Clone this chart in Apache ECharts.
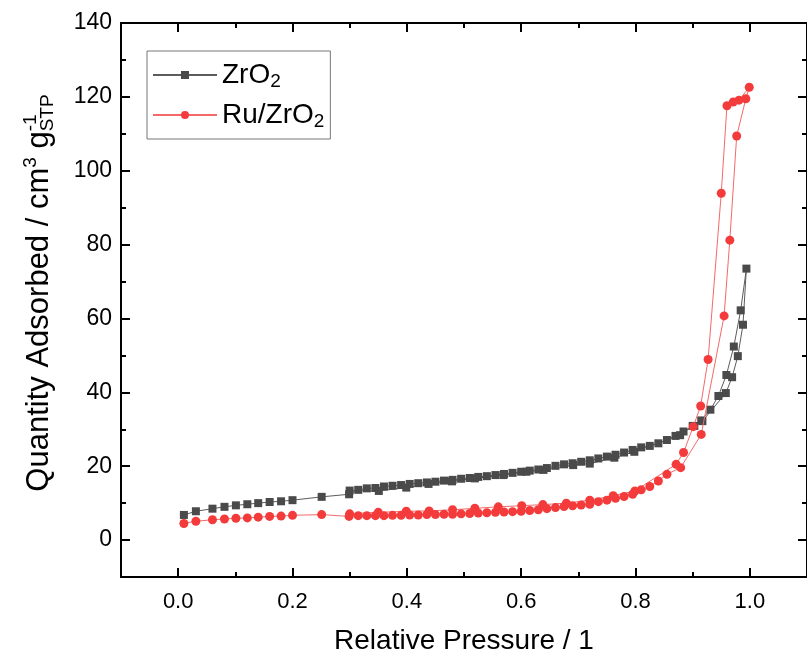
<!DOCTYPE html>
<html>
<head>
<meta charset="utf-8">
<script src="https://cdn.jsdelivr.net/npm/echarts@6/dist/echarts.min.js"></script>
<style>
  html, body { margin: 0; padding: 0; background: #fff; }
  #chart { width: 807px; height: 660px; }
</style>
</head>
<body>
<div id="chart"></div>
<script>
// N2 physisorption isotherms: adsorption branch followed by desorption branch
const zro2AdsP = [0.010,0.031,0.060,0.081,0.101,0.121,0.140,0.160,0.180,0.200,0.251,0.299,
  0.315,0.330,0.345,0.360,0.375,0.390,0.405,0.420,0.435,0.450,
  0.465,0.480,0.495,0.510,0.525,0.540,0.555,0.570,0.585,0.600,
  0.615,0.630,0.645,0.660,0.675,0.690,0.705,0.720,0.735,0.750,
  0.765,0.780,0.795,0.810,0.825,0.840,0.855,0.870,
  0.884,0.903,0.917,0.958,0.969,0.979,0.988,0.994];
const zro2AdsQ = [6.8,7.8,8.5,9.0,9.4,9.7,10.0,10.3,10.5,10.8,11.7,12.4,
  13.6,14.0,14.1,14.5,14.7,14.9,15.2,15.4,15.6,15.8,
  16.1,16.3,16.6,16.8,17.1,17.3,17.6,17.9,18.2,18.5,
  18.8,19.1,19.5,20.1,20.5,20.8,21.2,21.6,22.1,22.6,
  23.1,23.7,24.4,25.1,25.5,26.2,27.1,28.2,
  29.4,30.9,32.2,39.8,44.1,49.8,58.3,73.5];
const zro2DesP = [0.984,0.972,0.959,0.945,0.931,0.915,0.900,0.878,0.798,0.763,0.720,
  0.691,0.639,0.609,0.569,0.519,0.479,0.438,0.399,0.351,0.300];
const zro2DesQ = [62.2,52.4,44.7,39.0,35.3,32.4,30.9,28.4,23.9,22.3,20.7,
  20.3,19.0,18.5,17.6,16.7,15.9,15.2,14.2,13.3,13.4];

const ruAdsP = [0.010,0.031,0.060,0.081,0.101,0.121,0.140,0.160,0.180,0.200,0.251,0.299,
  0.315,0.330,0.345,0.360,0.375,0.390,0.405,0.420,0.435,0.450,
  0.465,0.480,0.495,0.510,0.525,0.540,0.555,0.570,0.585,0.600,
  0.615,0.630,0.645,0.660,0.675,0.690,0.705,0.720,0.735,0.750,
  0.765,0.780,0.795,0.810,0.825,0.840,0.855,
  0.879,0.915,0.955,0.965,0.977,0.993,0.999];
const ruAdsQ = [4.5,5.1,5.5,5.7,5.9,6.0,6.2,6.4,6.5,6.7,6.9,6.4,
  6.6,6.6,6.6,6.6,6.7,6.7,6.8,6.8,6.9,6.9,
  7.0,7.0,7.1,7.2,7.3,7.4,7.5,7.6,7.7,7.8,
  8.0,8.2,8.5,8.8,9.1,9.3,9.5,9.7,10.4,10.8,
  11.3,11.8,12.4,13.6,14.5,16.0,17.8,
  19.6,28.6,60.7,81.2,109.4,119.5,122.6];
const ruDesP = [0.981,0.971,0.960,0.950,0.927,0.914,0.901,0.884,0.871,0.799,0.761,
  0.720,0.679,0.638,0.601,0.560,0.519,0.480,0.439,0.399,0.350,0.300];
const ruDesQ = [119.1,118.6,117.6,93.9,48.9,36.3,30.7,23.7,20.5,13.3,12.0,
  10.8,10.0,9.6,9.3,9.0,8.6,8.2,7.9,7.8,7.5,7.1];

const seriesNames = ['ZrO2', 'Ru/ZrO2'];
const xMajor = [0, 0.2, 0.4, 0.6, 0.8, 1.0];
const xMinor = [0.1, 0.3, 0.5, 0.7, 0.9];
const yMajor = [0, 20, 40, 60, 80, 100, 120, 140];
const yMinor = [10, 30, 50, 70, 90, 110, 130];

function pairs(px, qy) { return px.map((p, i) => [p, qy[i]]); }

const FONT = '"Liberation Sans", Arial, sans-serif';
const SCRIPT_SIZE = 19;

// width of the superscript so the subscript can start underneath it
const measureCtx = document.createElement('canvas').getContext('2d');
measureCtx.font = SCRIPT_SIZE + 'px "Liberation Sans", Arial, sans-serif';
const supWidth = measureCtx.measureText('-1').width;

const chart = echarts.init(document.getElementById('chart'), null, { renderer: 'canvas' });

function frameX(pos, values, len, withLine, withLabel) {
  return {
    type: 'value', gridIndex: 0, position: pos, min: -0.1, max: 1.1,
    axisLine: { show: withLine, onZero: false, lineStyle: { color: '#000', width: 2 } },
    axisTick: { show: true, inside: true, length: len, customValues: values,
      lineStyle: { color: '#000', width: 2 } },
    axisLabel: withLabel ? { show: true, customValues: values, formatter: v => v.toFixed(1),
      fontSize: 22, fontFamily: FONT, color: '#000', margin: 14 } : { show: false },
    splitLine: { show: false }
  };
}
function frameY(pos, values, len, withLine, withLabel) {
  return {
    type: 'value', gridIndex: 0, position: pos, min: -10, max: 140,
    axisLine: { show: withLine, onZero: false, lineStyle: { color: '#000', width: 2 } },
    axisTick: { show: true, inside: true, length: len, customValues: values,
      lineStyle: { color: '#000', width: 2 } },
    axisLabel: withLabel ? { show: true, customValues: values, formatter: v => String(v),
      fontSize: 23, fontFamily: FONT, color: '#000', margin: 9 } : { show: false },
    splitLine: { show: false }
  };
}

const xMain = frameX('bottom', xMajor, 9, true, true);
xMain.name = 'Relative Pressure / 1';
xMain.nameLocation = 'middle';
xMain.nameGap = 50;
xMain.nameTextStyle = { fontSize: 28, fontFamily: FONT, color: '#000' };

const yMain = frameY('left', yMajor, 9, true, true);
yMain.name = 'Quantity Adsorbed / cm{sup|3} g{sup|-1}{sub|STP}';
yMain.nameLocation = 'middle';
yMain.nameGap = 64;
yMain.nameRotate = 90;
yMain.nameTextStyle = {
  fontSize: 31, fontFamily: FONT, color: '#000', lineHeight: 36,
  padding: [0, 0, 0, 14],
  rich: {
    sup: { fontSize: SCRIPT_SIZE, fontFamily: FONT, color: '#000', verticalAlign: 'top', lineHeight: 19 },
    sub: { fontSize: SCRIPT_SIZE, fontFamily: FONT, color: '#000', verticalAlign: 'bottom', lineHeight: 16,
      padding: [0, 0, 0, -supWidth] }
  }
};

const legendRich = {
  sub: { fontSize: SCRIPT_SIZE, fontFamily: FONT, color: '#000', verticalAlign: 'bottom', lineHeight: 14 }
};

chart.setOption({
  animation: false,
  backgroundColor: '#fff',
  grid: { left: 121, top: 23, width: 689, height: 555, containLabel: false },
  xAxis: [
    xMain,
    frameX('bottom', xMinor, 5, false, false),
    frameX('top', xMajor, 9, true, false),
    frameX('top', xMinor, 5, false, false)
  ],
  yAxis: [
    yMain,
    frameY('left', yMinor, 5, false, false),
    frameY('right', yMajor, 9, true, false),
    frameY('right', yMinor, 5, false, false)
  ],
  legend: {
    orient: 'vertical', left: 147, top: 51,
    padding: [8, 6, 8, 5], itemGap: 8,
    itemWidth: 64, itemHeight: 10,
    borderColor: '#777', borderWidth: 1, borderRadius: 0,
    data: seriesNames,
    formatter: name => name.replace('2', '{sub|2}'),
    textStyle: { fontSize: 28, fontFamily: FONT, color: '#000', lineHeight: 32, rich: legendRich }
  },
  series: [
    {
      name: seriesNames[0], type: 'line', xAxisIndex: 0, yAxisIndex: 0,
      data: pairs(zro2AdsP, zro2AdsQ).concat(pairs(zro2DesP, zro2DesQ)),
      symbol: 'rect', symbolSize: 8,
      itemStyle: { color: '#4a4a4a' },
      lineStyle: { color: '#5c5c5c', width: 1 },
      z: 3
    },
    {
      name: seriesNames[1], type: 'line', xAxisIndex: 0, yAxisIndex: 0,
      data: pairs(ruAdsP, ruAdsQ).concat(pairs(ruDesP, ruDesQ)),
      symbol: 'circle', symbolSize: 9,
      itemStyle: { color: '#f43b3b' },
      lineStyle: { color: '#f46a6a', width: 1 },
      z: 4
    }
  ]
});
</script>
</body>
</html>
